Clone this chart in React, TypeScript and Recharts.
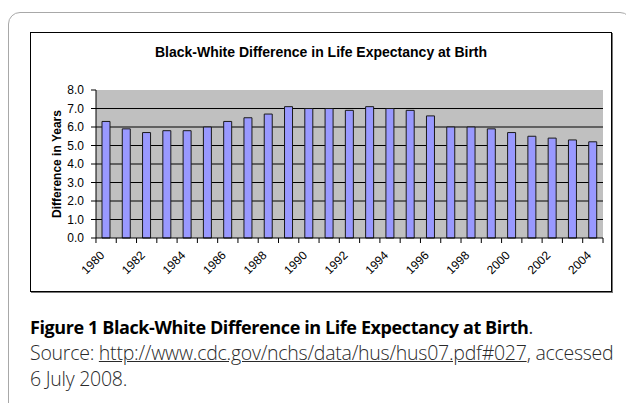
import { Bar, BarChart, CartesianGrid, XAxis, YAxis } from 'recharts';

const years = [
  '1980', '1981', '1982', '1983', '1984', '1985', '1986', '1987', '1988', '1989',
  '1990', '1991', '1992', '1993', '1994', '1995', '1996', '1997', '1998', '1999',
  '2000', '2001', '2002', '2003', '2004',
];
const gap = [
  6.3, 5.9, 5.7, 5.8, 5.8, 6.0, 6.3, 6.5, 6.7, 7.1,
  7.0, 7.0, 6.9, 7.1, 7.0, 6.9, 6.6, 6.0, 6.0, 5.9,
  5.7, 5.5, 5.4, 5.3, 5.2,
];
const tickLabels = ['1980', '1982', '1984', '1986', '1988', '1990', '1992', '1994', '1996', '1998', '2000', '2002', '2004'];
const yTicks = [0, 1, 2, 3, 4, 5, 6, 7, 8];
const gridLines = [1, 2, 3, 4, 5, 6, 7];

const data = years.map((year, i) => ({ year, gap: gap[i] }));

const font = '"Liberation Sans", Arial, sans-serif';
const BAND = 508 / years.length;

function YearTick(props: any) {
  const { x, y, payload, index } = props;
  const last = index === years.length - 1;
  return (
    <g>
      <line x1={x - BAND / 2} x2={x - BAND / 2} y1={y} y2={y + 5} stroke="#000" />
      {last && <line x1={x + BAND / 2} x2={x + BAND / 2} y1={y} y2={y + 5} stroke="#000" />}
      {tickLabels.includes(payload.value) && (
        <text
          x={0}
          y={0}
          transform={`translate(${x - 1},${y + 18}) rotate(-45)`}
          textAnchor="end"
          fontSize={12}
          fontFamily={font}
          fill="#000"
        >
          {payload.value}
        </text>
      )}
    </g>
  );
}

export default function App() {
  return (
    <div style={{ position: 'absolute', left: 0, top: 0, width: 626, height: 403, overflow: 'hidden', background: '#fff' }}>
      <div
        style={{
          position: 'absolute', left: 8, top: 12, width: 624, height: 430,
          border: '1.5px solid #a8a8a8', borderRadius: 12, boxSizing: 'border-box',
        }}
      />
      <div
        style={{
          position: 'absolute', left: 30, top: 32, width: 582, height: 260,
          border: '1px solid #000', boxShadow: '1px 1px 0 #777', boxSizing: 'border-box', background: '#fff',
        }}
      >
        <div
          style={{
            position: 'absolute', left: 0, top: 11, width: '100%', textAlign: 'center',
            fontFamily: font, fontWeight: 'bold', fontSize: 14, color: '#000',
          }}
        >
          Black-White Difference in Life Expectancy at Birth
        </div>
        <BarChart
          width={580}
          height={258}
          data={data}
          margin={{ top: 57, right: 8, left: 0, bottom: 0 }}
          barCategoryGap={0}
        >
          <CartesianGrid
            vertical={false}
            horizontalValues={gridLines}
            stroke="#000"
            fill="#c0c0c0"
            fillOpacity={1}
          />
          <XAxis
            dataKey="year"
            interval={0}
            height={53}
            tickSize={0}
            tickMargin={0}
            tickLine={false}
            stroke="#000"
            tick={<YearTick />}
          />
          <YAxis
            width={65}
            domain={[0, 8]}
            ticks={yTicks}
            interval={0}
            tickSize={5}
            tickMargin={7}
            stroke="#000"
            tickFormatter={(v: number) => v.toFixed(1)}
            tick={{ fontSize: 12, fontFamily: font, fill: '#000' }}
            label={{
              value: 'Difference in Years', angle: -90, position: 'center', dx: -7,
              style: { fontSize: 12, fontFamily: font, fontWeight: 'bold', fill: '#000' },
            }}
          />
          <Bar dataKey="gap" fill="#9999ff" stroke="#1a1a1a" strokeWidth={1} barSize={8} isAnimationActive={false} />
        </BarChart>
      </div>
      <div
        style={{
          position: 'absolute', left: 30, top: 314, width: 610,
          fontFamily: '"Open Sans", sans-serif', lineHeight: '26px', color: '#2a2a2a',
          whiteSpace: 'nowrap',
        }}
      >
        <div style={{ fontSize: 18, letterSpacing: -0.4 }}>
          <span style={{ fontWeight: 'bold', color: '#000' }}>Figure 1 Black-White Difference in Life Expectancy at Birth</span>.
        </div>
        <div style={{ fontSize: 19.5, letterSpacing: -0.25, fontWeight: 300 }}>
          Source: <span style={{ textDecoration: 'underline' }}>http://www.cdc.gov/nchs/data/hus/hus07.pdf#027</span>, accessed
        </div>
        <div style={{ fontSize: 19.5, letterSpacing: -0.25, fontWeight: 300 }}>6 July 2008.</div>
      </div>
    </div>
  );
}
